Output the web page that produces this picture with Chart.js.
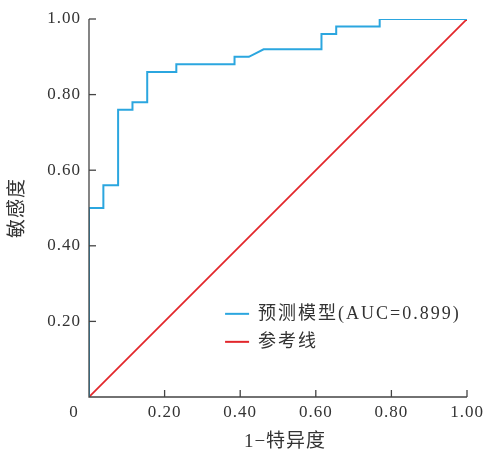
<!DOCTYPE html>
<html><head><meta charset="utf-8">
<script src="https://cdn.jsdelivr.net/npm/chart.js@4/dist/chart.umd.min.js"></script>
<style>html,body{margin:0;padding:0;background:#fff}#wrap{width:489px;height:454px;position:relative}</style>
</head><body><div id="wrap"><canvas id="c"></canvas></div>
<script>
// ROC curve points (1 - specificity, sensitivity)
const rocFpr = [0, 0, 0.038, 0.038, 0.077, 0.077, 0.115, 0.115, 0.154, 0.154, 0.231, 0.231, 0.385, 0.385, 0.423, 0.462, 0.615, 0.615, 0.654, 0.654, 0.769, 0.769, 1.0];
const rocTpr = [0, 0.50, 0.50, 0.56, 0.56, 0.76, 0.76, 0.78, 0.78, 0.86, 0.86, 0.88, 0.88, 0.90, 0.90, 0.92, 0.92, 0.96, 0.96, 0.98, 0.98, 1.00, 1.00];
const refX = [0, 1];
const refY = [0, 1];
const tickValues = [0, 0.2, 0.4, 0.6, 0.8, 1.0];
const tickLabels = ['0', '0.20', '0.40', '0.60', '0.80', '1.00'];
const seriesNames = ['预测模型(AUC=0.899)', '参考线'];
const xTitle = '1−特异度';
const yTitle = '敏感度';

const BLUE = '#2ba6df', RED = '#e2262b', AXIS = '#444';
const serif = '"Liberation Serif", "DejaVu Serif", serif';
const mixed = '"Liberation Serif", "Noto Sans CJK SC", serif';

const decor = {
  id: 'decor',
  afterDraw(chart) {
    const ctx = chart.ctx, xs = chart.scales.x, ys = chart.scales.y, a = chart.chartArea;
    ctx.save();
    ctx.strokeStyle = AXIS; ctx.lineWidth = 1.3;
    ctx.beginPath();
    ctx.moveTo(a.left, a.top); ctx.lineTo(a.left, a.bottom); ctx.lineTo(a.right, a.bottom);
    ctx.stroke();
    tickValues.forEach(v => {
      const px = xs.getPixelForValue(v), py = ys.getPixelForValue(v);
      if (v > 0) {
        ctx.beginPath(); ctx.moveTo(px, a.bottom); ctx.lineTo(px, a.bottom - 7); ctx.stroke();
        ctx.beginPath(); ctx.moveTo(a.left, py); ctx.lineTo(a.left + 7, py); ctx.stroke();
      }
    });
    ctx.fillStyle = '#333';
    ctx.font = '17px ' + serif;
    ctx.letterSpacing = '1px';
    ctx.textBaseline = 'middle';
    tickValues.forEach((v, i) => {
      if (v === 0) return;
      ctx.textAlign = 'center';
      ctx.fillText(tickLabels[i], xs.getPixelForValue(v), a.bottom + 16);
      ctx.textAlign = 'right';
      ctx.fillText(tickLabels[i], a.left - 8, ys.getPixelForValue(v));
    });
    ctx.textAlign = 'center';
    ctx.fillText(tickLabels[0], a.left - 15, a.bottom + 16);
    ctx.font = '19px ' + mixed;
    ctx.letterSpacing = '1px';
    ctx.fillText(xTitle, (a.left + a.right) / 2 + 7, a.bottom + 45);
    ctx.save();
    ctx.translate(18, (a.top + a.bottom) / 2);
    ctx.rotate(-Math.PI / 2);
    ctx.fillText(yTitle, 0, 0);
    ctx.restore();
    const lx = xs.getPixelForValue(0.36), ly0 = ys.getPixelForValue(0.22);
    const colors = [BLUE, RED];
    ctx.font = '18px ' + mixed;
    ctx.letterSpacing = '2px';
    ctx.textAlign = 'left';
    seriesNames.forEach((n, i) => {
      const ly = ly0 + i * 28;
      ctx.strokeStyle = colors[i]; ctx.lineWidth = 2;
      ctx.beginPath(); ctx.moveTo(lx, ly); ctx.lineTo(lx + 24, ly); ctx.stroke();
      ctx.fillStyle = '#333';
      ctx.fillText(n, lx + 33, ly);
    });
    ctx.letterSpacing = '0px';
    ctx.restore();
  }
};

new Chart(document.getElementById('c'), {
  type: 'scatter',
  data: {
    datasets: [
      { label: seriesNames[1], data: refX.map((x, i) => ({x, y: refY[i]})), showLine: true, borderColor: RED, borderWidth: 1.8, pointRadius: 0, order: 2 },
      { label: seriesNames[0], data: rocFpr.map((x, i) => ({x, y: rocTpr[i]})), showLine: true, borderColor: BLUE, borderWidth: 2, pointRadius: 0, order: 1 }
    ]
  },
  options: {
    responsive: true, maintainAspectRatio: false, animation: false,
    layout: { padding: { top: 19, right: 22, left: 0, bottom: 0 } },
    plugins: { legend: { display: false }, tooltip: { enabled: false } },
    scales: {
      x: { type: 'linear', min: 0, max: 1, border: { display: false }, grid: { display: false },
           ticks: { display: false }, afterFit(s) { s.height = 57; } },
      y: { type: 'linear', min: 0, max: 1, border: { display: false }, grid: { display: false },
           ticks: { display: false }, afterFit(s) { s.width = 89; } }
    }
  },
  plugins: [decor]
});
</script></body></html>
